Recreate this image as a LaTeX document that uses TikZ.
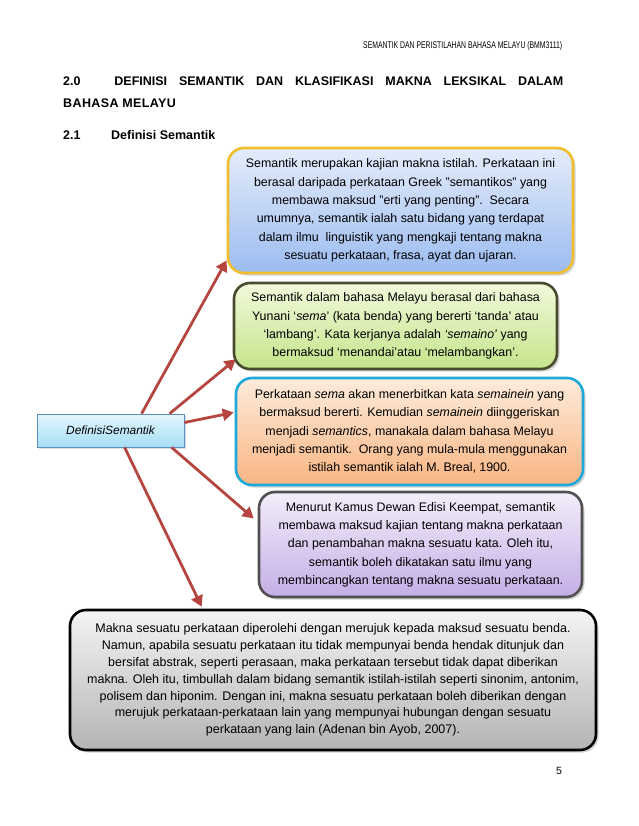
\documentclass[tikz,border=0pt]{standalone}
\usepackage{fontspec}
\setmainfont{Liberation Sans}
\usepackage{graphicx}
\usetikzlibrary{shadows,arrows.meta,calc}
\definecolor{arrred}{HTML}{B5453F}
\definecolor{yelbd}{HTML}{F0BE2C}
\definecolor{bluetop}{HTML}{E4ECFA}
\definecolor{bluebot}{HTML}{9CBCF0}
\definecolor{olivebd}{HTML}{4A4A2E}
\definecolor{greentop}{HTML}{F2F9DC}
\definecolor{greenbot}{HTML}{C4E48A}
\definecolor{cyanbd}{HTML}{1FA9DA}
\definecolor{orgtop}{HTML}{FDECDC}
\definecolor{orgbot}{HTML}{F8B582}
\definecolor{graybd}{HTML}{505050}
\definecolor{purtop}{HTML}{F3EDFA}
\definecolor{purbot}{HTML}{C4AEE6}
\definecolor{greytop}{HTML}{F4F4F4}
\definecolor{greybot}{HTML}{B4B4B4}
\definecolor{deftop}{HTML}{E4F6FD}
\definecolor{defbot}{HTML}{A4DEF4}
\definecolor{defbd}{HTML}{5A90C0}
\tikzset{
  box/.style={rounded corners=16pt, line width=2.6pt, align=center, inner sep=0pt,
    font=\fontsize{12.4}{18.3}\selectfont,
    drop shadow={shadow xshift=2.5pt,shadow yshift=-2.5pt,opacity=0.35}},
  arr/.style={line width=2.8pt, draw=arrred, -{Triangle[length=11pt,width=12pt]}},
  txt/.style={inner sep=0pt, anchor=base west},
  ttl/.style={txt, font=\bfseries\fontsize{12.5}{14}\selectfont},
}
\begin{document}
\begin{tikzpicture}[x=1pt,y=-1pt]
\useasboundingbox (0,0) rectangle (638,826);
% header
\node[inner sep=0pt, anchor=base west] (hdr) at (363,49) {\resizebox{199pt}{7pt}{\fontsize{10}{12}\selectfont SEMANTIK DAN PERISTILAHAN BAHASA MELAYU (BMM3111)}};
% title
\node[ttl] (t1) at (63,86) {\makebox[500pt][s]{2.0\hspace{22pt} DEFINISI SEMANTIK DAN KLASIFIKASI MAKNA LEKSIKAL DALAM}};
\node[ttl] (t2) at (63,108) {\addfontfeature{LetterSpace=3}BAHASA MELAYU};
\node[ttl] (t3) at (63,140) {2.1};
\node[ttl] (t4) at (111,140) {Definisi Semantik};
% boxes
\node[box, draw=yelbd, top color=bluetop, bottom color=bluebot, minimum width=345pt, minimum height=125pt] (b1) at (400.5,210.5) {Semantik merupakan kajian makna istilah. Perkataan ini\\ berasal daripada perkataan Greek "semantikos" yang\\ membawa maksud "erti yang penting".\ \ Secara\\ umumnya, semantik ialah satu bidang yang terdapat\\ dalam ilmu\ \ linguistik yang mengkaji tentang makna\\ sesuatu perkataan, frasa, ayat dan ujaran.};
\node[box, draw=olivebd, top color=greentop, bottom color=greenbot, minimum width=323pt, minimum height=86pt] (b2) at (395.5,326) {Semantik dalam bahasa Melayu berasal dari bahasa\\ Yunani ‘\textit{sema}’ (kata benda) yang bererti ‘tanda’ atau\\ ‘lambang’. Kata kerjanya adalah \textit{‘semaino’} yang\\ bermaksud ‘menandai’atau ‘melambangkan’.};
\node[box, draw=cyanbd, top color=orgtop, bottom color=orgbot, minimum width=347pt, minimum height=107pt] (b3) at (409.5,431.5) {Perkataan \textit{sema} akan menerbitkan kata \textit{semainein} yang\\ bermaksud bererti. Kemudian \textit{semainein} diinggeriskan\\ menjadi \textit{semantics}, manakala dalam bahasa Melayu\\ menjadi semantik.\ \ Orang yang mula-mula menggunakan\\ istilah semantik ialah M. Breal, 1900.};
\node[box, draw=graybd, top color=purtop, bottom color=purbot, minimum width=323pt, minimum height=105pt] (b4) at (420.5,544.5) {Menurut Kamus Dewan Edisi Keempat, semantik\\ membawa maksud kajian tentang makna perkataan\\ dan penambahan makna sesuatu kata. Oleh itu,\\ semantik boleh dikatakan satu ilmu yang\\ membincangkan tentang makna sesuatu perkataan.};
\node[box, draw=black, top color=greytop, bottom color=greybot, minimum width=526pt, minimum height=140pt, font=\fontsize{12.5}{16.8}\selectfont] (b5) at (333,680) {Makna sesuatu perkataan diperolehi dengan merujuk kepada maksud sesuatu benda.\\ Namun, apabila sesuatu perkataan itu tidak mempunyai benda hendak ditunjuk dan\\ bersifat abstrak, seperti perasaan, maka perkataan tersebut tidak dapat diberikan\\ makna. Oleh itu, timbullah dalam bidang semantik istilah-istilah seperti sinonim, antonim,\\ polisem dan hiponim. Dengan ini, makna sesuatu perkataan boleh diberikan dengan\\ merujuk perkataan-perkataan lain yang mempunyai hubungan dengan sesuatu\\ perkataan yang lain (Adenan bin Ayob, 2007).};
% central node
\node[draw=defbd, line width=0.8pt, top color=deftop, bottom color=defbot, minimum width=147pt, minimum height=33pt, inner sep=0pt, font=\itshape\fontsize{11.9}{13}\selectfont,
  drop shadow={shadow xshift=1.5pt,shadow yshift=-1.5pt,opacity=0.25}] (def) at (110.5,430.5) {DefinisiSemantik};
% arrows
\draw[arr] ($(def.north west)+(105,0)$) -- ($(b1.south west)+(0,-14)$);
\draw[arr] ($(def.north west)+(133,0)$) -- ($(b2.south west)+(3,-11)$);
\draw[arr] ($(def.east)+(0,-8)$) -- ($(b3.west)+(-1,-19)$);
\draw[arr] ($(def.south west)+(135,0)$) -- ($(b4.west)+(-4,-26)$);
\draw[arr] ($(def.south west)+(88,0)$) -- ($(b5.north west)+(133,-2)$);
% page number
\node[txt, font=\fontsize{10.5}{12}\selectfont] (pg) at (556,774) {5};
\end{tikzpicture}
\end{document}
